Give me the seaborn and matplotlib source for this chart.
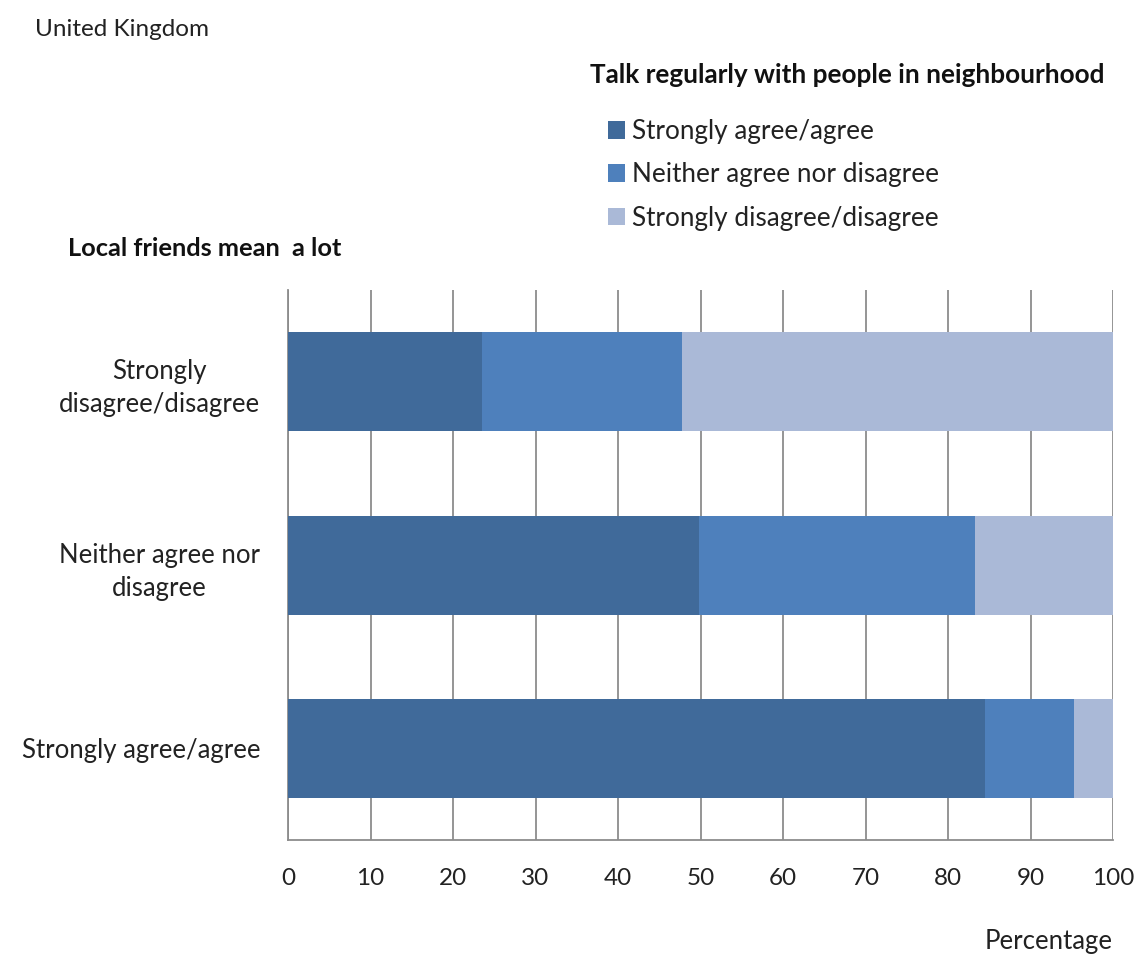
import matplotlib
matplotlib.use("Agg")
import matplotlib.pyplot as plt
from matplotlib.patches import Patch
import seaborn as sns
import pandas as pd
import numpy as np

categories = ["Strongly\ndisagree/disagree", "Neither agree nor\ndisagree", "Strongly agree/agree"]
series_names = ["Strongly agree/agree", "Neither agree nor disagree", "Strongly disagree/disagree"]
agree = [23.5, 49.8, 84.5]
neither = [24.2, 33.5, 10.8]
disagree = [52.3, 16.7, 4.7]
colors = ["#406A9A", "#4E80BC", "#AAB9D7"]
xticks = [0, 10, 20, 30, 40, 50, 60, 70, 80, 90, 100]

sns.set_theme(style="white")
plt.rcParams['font.family'] = ['Lato', 'DejaVu Sans']

fig = plt.figure(figsize=(11.4, 9.55), dpi=100)
ax = fig.add_axes([288/1140, 1-840/955, (1113-288)/1140, 550/955])

c1 = np.array(agree)
c2 = c1 + np.array(neither)
c3 = c2 + np.array(disagree)

for vals, col in [(c3, colors[2]), (c2, colors[1]), (c1, colors[0])]:
    df = pd.DataFrame({"cat": categories, "val": vals})
    sns.barplot(data=df, y="cat", x="val", orient="h", color=col, saturation=1,
                width=0.54, ax=ax, zorder=3, order=categories, linewidth=0,
                edgecolor=col)

ax.set_xlim(0, 100)
ax.set_ylim(2.5, -0.5)
ax.set_xticks(xticks)
ax.set_xticklabels([str(t) for t in xticks], fontsize=17.5, color="#222222")
ax.set_xlabel("")
ax.set_ylabel("")
ax.grid(axis="x", color="#8C8C8C", linewidth=1.3, zorder=0)
ax.set_axisbelow(True)
for s in ["top", "right"]:
    ax.spines[s].set_visible(False)
for s in ["left", "bottom"]:
    ax.spines[s].set_color("#8C8C8C")
    ax.spines[s].set_linewidth(1.3)
ax.tick_params(axis="x", direction="out", length=10, width=1.3, color="#8C8C8C", pad=10)
ax.tick_params(axis="y", length=0, pad=20)
for lab in ax.get_yticklabels():
    lab.set_fontsize(18.5)
    lab.set_color("#222222")
    lab.set_multialignment("center")
    lab.set_ha("right")
    lab.set_linespacing(1.4)

fig.text(35/1140, 1-30/955, "United Kingdom", fontsize=17.5, va="center", ha="left", color="#222222")
fig.text(1105/1140, 1-75/955, "Talk regularly with people in neighbourhood", fontsize=18.8,
         fontweight="bold", va="center", ha="right", color="#111111")
fig.text(68/1140, 1-248/955, "Local friends mean  a lot", fontsize=18.3,
         fontweight="bold", va="center", ha="left", color="#111111")
fig.text(1113/1140, 1-941/955, "Percentage", fontsize=18.5, va="center", ha="right", color="#222222")

handles = [Patch(facecolor=c, edgecolor="none") for c in colors]
fig.legend(handles, series_names, loc="upper left", bbox_to_anchor=(608/1140, 1-119/955),
           frameon=False, fontsize=18.8, handlelength=0.65, handleheight=0.65,
           handletextpad=0.25, labelspacing=0.7, borderaxespad=0, borderpad=0,
           labelcolor="#222222")

fig.savefig("out.png", dpi=100)
